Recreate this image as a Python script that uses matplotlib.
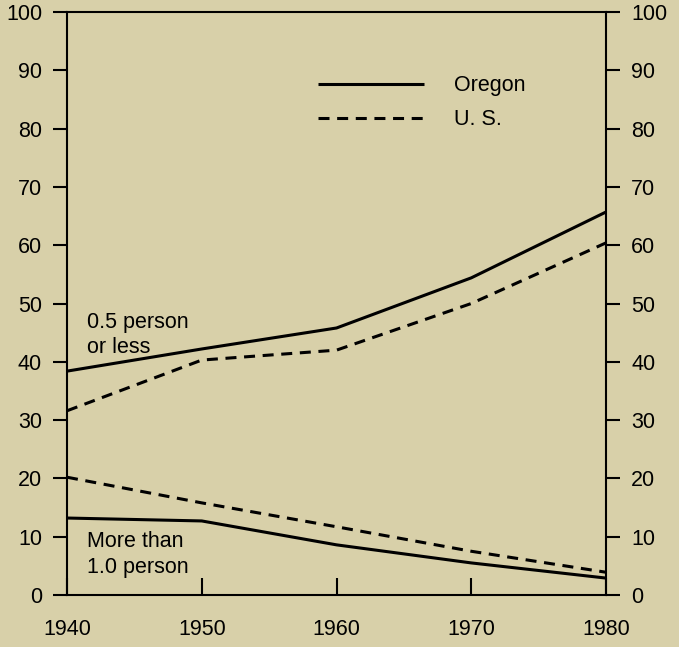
import matplotlib
matplotlib.use("Agg")
import matplotlib.pyplot as plt

years = [1940, 1950, 1960, 1970, 1980]
oregon_low = [38.4, 42.2, 45.8, 54.4, 65.7]
us_low = [31.6, 40.3, 42.0, 50.0, 60.4]
oregon_high = [13.2, 12.7, 8.6, 5.5, 2.9]
us_high = [20.2, 15.8, 11.7, 7.5, 3.9]
y_ticks = [0, 10, 20, 30, 40, 50, 60, 70, 80, 90, 100]

bg = "#d8d0a9"
plt.rcParams['font.family'] = ['Liberation Sans', 'DejaVu Sans']
fs = 15.5

fig = plt.figure(figsize=(6.79, 6.47), dpi=100, facecolor=bg)
ax = fig.add_axes([0.0987, 0.0804, 0.7938, 0.901])
ax.set_facecolor(bg)

dash = (0, (3.6, 2.5))
ax.plot(years, oregon_low, color="black", lw=2.2, label="Oregon", solid_capstyle="butt")
ax.plot(years, us_low, color="black", lw=2.2, linestyle=dash, label="U. S.")
ax.plot(years, oregon_high, color="black", lw=2.2, solid_capstyle="butt")
ax.plot(years, us_high, color="black", lw=2.2, linestyle=dash)

ax.set_xlim(1940, 1980)
ax.set_ylim(0, 100)

for s in ax.spines.values():
    s.set_linewidth(1.5)

ax.set_yticks(y_ticks)
ax.set_xticks(years)
ax.tick_params(axis="y", which="both", direction="out", length=10, width=1.5,
               labelsize=fs, pad=8, left=True, right=True,
               labelleft=True, labelright=True)
ax.tick_params(axis="x", direction="in", length=12, width=1.5,
               labelsize=fs, pad=17)

ax.text(1941.5, 48.6, "0.5 person\nor less", fontsize=fs, va="top", ha="left",
        linespacing=1.3)
ax.text(1941.5, 10.9, "More than\n1.0 person", fontsize=fs, va="top", ha="left",
        linespacing=1.3)

leg = ax.legend(loc="upper left", bbox_to_anchor=(0.43, 0.925), frameon=False,
                handlelength=4.93, fontsize=fs, handletextpad=1.4,
                labelspacing=0.62)

fig.savefig("out.png", dpi=100, facecolor=bg)
